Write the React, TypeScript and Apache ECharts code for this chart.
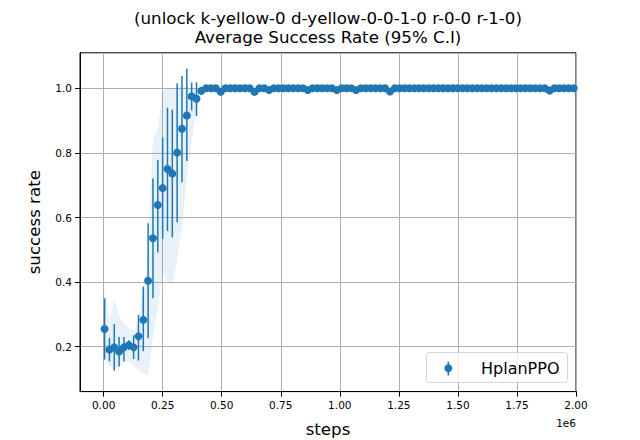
import React, { useEffect, useRef } from "react";
import * as echarts from "echarts";

// evaluation steps (x)
const steps = [
  4096, 24576, 45056, 65536, 86016, 106496, 126976, 147456, 167936, 188416,
  208896, 229376, 249856, 270336, 290816, 311296, 331776, 352256, 372736, 393216,
  413696, 434176, 454656, 475136, 495616, 516096, 536576, 557056, 577536, 598016,
  618496, 638976, 659456, 679936, 700416, 720896, 741376, 761856, 782336, 802816,
  823296, 843776, 864256, 884736, 905216, 925696, 946176, 966656, 987136, 1007616,
  1028096, 1048576, 1069056, 1089536, 1110016, 1130496, 1150976, 1171456, 1191936, 1212416,
  1232896, 1253376, 1273856, 1294336, 1314816, 1335296, 1355776, 1376256, 1396736, 1417216,
  1437696, 1458176, 1478656, 1499136, 1519616, 1540096, 1560576, 1581056, 1601536, 1622016,
  1642496, 1662976, 1683456, 1703936, 1724416, 1744896, 1765376, 1785856, 1806336, 1826816,
  1847296, 1867776, 1888256, 1908736, 1929216, 1949696, 1970176, 1990656,
];

// mean success rate
const successMean = [
  0.255, 0.191, 0.198, 0.185, 0.198, 0.205, 0.198, 0.232, 0.283, 0.404,
  0.536, 0.639, 0.691, 0.75, 0.736, 0.801, 0.875, 0.916, 0.975, 0.968,
  0.992, 1, 1, 1, 0.989, 1, 1, 1, 1, 1,
  1, 0.989, 1, 1, 0.995, 1, 1, 1, 1, 1,
  1, 1, 0.995, 1, 1, 1, 1, 1, 0.995, 1,
  1, 1, 0.995, 1, 1, 1, 1, 1, 1, 0.99,
  1, 1, 1, 1, 1, 1, 1, 1, 1, 1,
  1, 1, 1, 1, 1, 1, 1, 1, 1, 1,
  1, 1, 1, 1, 1, 1, 1, 1, 1, 1,
  1, 1, 0.993, 1, 1, 1, 1, 1,
];

// 95% C.I. error bars (first points; later ones collapse onto the marker)
const ciLow = [
  0.16, 0.155, 0.126, 0.139, 0.155, 0.19, 0.162, 0.157, 0.186, 0.227,
  0.35, 0.492, 0.534, 0.558, 0.539, 0.585, 0.709, 0.775, 0.932, 0.914, 0.98,
];
const ciHigh = [
  0.35, 0.227, 0.27, 0.23, 0.23, 0.22, 0.235, 0.299, 0.386, 0.582,
  0.721, 0.778, 0.848, 0.94, 0.934, 1.016, 1.038, 1.061, 1.018, 1.019, 1.0,
];

// shaded band
const bandLow = [
  0.165, 0.139, 0.129, 0.139, 0.15, 0.155, 0.139, 0.129, 0.118, 0.112,
  0.23, 0.32, 0.43, 0.4, 0.395, 0.47, 0.57, 0.72, 0.84, 0.93, 0.985, 0.995,
];
const bandHigh = [
  0.391, 0.278, 0.35, 0.294, 0.273, 0.258, 0.247, 0.283, 0.376, 0.48,
  0.846, 0.87, 0.99, 1.0, 1.0, 1.005, 1.005, 1.005, 1.0, 1.0, 1.0, 1.0,
];

const xTicks = [0, 250000, 500000, 750000, 1000000, 1250000, 1500000, 1750000, 2000000];
const yTicks = [0.2, 0.4, 0.6, 0.8, 1.0];
const titleLines = ["(unlock k-yellow-0 d-yellow-0-0-1-0 r-0-0 r-1-0)", "Average Success Rate (95% C.I)"];
const seriesName = "HplanPPO";
const xName = "steps";
const yName = "success rate";
const xOffsetText = "1e6";

const BLUE = "#1f77b4";
const FONT = "DejaVu Sans";

export default function App() {
  const ref = useRef<HTMLDivElement>(null);
  useEffect(() => {
    document.body.style.margin = "0";
    const chart = echarts.init(ref.current!, null, { renderer: "svg" });
    const gridL = 80, gridT = 52.8, gridW = 496, gridH = 338.8;
    const cx = gridL + gridW / 2;
    const option: any = {
      animation: false,
      backgroundColor: "#fff",
      textStyle: { fontFamily: FONT },
      grid: {
        left: gridL, top: gridT, width: gridW, height: gridH,
        show: true, borderColor: "#000", borderWidth: 1, backgroundColor: "transparent",
      },
      xAxis: {
        type: "value", min: -100000, max: 2000000,
        axisLine: { show: true, onZero: false, lineStyle: { color: "#000", width: 1 } },
        axisTick: { show: true, customValues: xTicks, length: 5, lineStyle: { color: "#000", width: 1 } },
        axisLabel: {
          customValues: xTicks, color: "#000", fontSize: 10.5, margin: 8,
          formatter: (v: number) => (v / 1e6).toFixed(2),
        },
        splitLine: { show: true, lineStyle: { color: "#b0b0b0", width: 1 } },
      },
      yAxis: {
        type: "value", min: 0.061, max: 1.11,
        axisLine: { show: true, onZero: false, lineStyle: { color: "#000", width: 1 } },
        axisTick: { show: true, customValues: yTicks, length: 5, lineStyle: { color: "#000", width: 1 } },
        axisLabel: {
          customValues: yTicks, color: "#000", fontSize: 10.5, margin: 8,
          formatter: (v: number) => v.toFixed(1),
        },
        splitLine: { show: true, lineStyle: { color: "#b0b0b0", width: 1 } },
      },
      series: [
        {
          type: "custom", name: "band", z: 1, silent: true,
          data: bandLow.map((lo, i) => [steps[i], lo, bandHigh[i]]),
          encode: { x: 0, y: [1, 2] },
          renderItem: (params: any, api: any) => {
            if (params.dataIndex !== 0) return null;
            const upper = bandHigh.map((v, i) => api.coord([steps[i], v]));
            const lower = bandLow.map((v, i) => api.coord([steps[i], v])).reverse();
            return {
              type: "polygon",
              shape: { points: upper.concat(lower) },
              style: { fill: "rgba(31,119,180,0.1)", stroke: "none" },
            };
          },
        },
        {
          type: "custom", name: "err", z: 2, silent: true,
          data: ciLow.map((lo, i) => [steps[i], lo, ciHigh[i]]),
          encode: { x: 0, y: [1, 2] },
          renderItem: (params: any, api: any) => {
            const p1 = api.coord([api.value(0), api.value(1)]);
            const p2 = api.coord([api.value(0), api.value(2)]);
            return {
              type: "line",
              shape: { x1: p1[0], y1: p1[1], x2: p2[0], y2: p2[1] },
              style: { stroke: BLUE, lineWidth: 1.5 },
            };
          },
        },
        {
          type: "scatter", name: seriesName, z: 3,
          symbol: "circle", symbolSize: 8,
          itemStyle: { color: BLUE, opacity: 1 },
          data: steps.map((s, i) => [s, successMean[i]]),
        },
      ],
      graphic: [
        {
          type: "text", x: cx, y: 18, z: 10,
          style: { text: titleLines[0], fill: "#000", fontSize: 16.67, fontFamily: FONT, textAlign: "center", textVerticalAlign: "middle" },
        },
        {
          type: "text", x: cx, y: 37.5, z: 10,
          style: { text: titleLines[1], fill: "#000", fontSize: 16.67, fontFamily: FONT, textAlign: "center", textVerticalAlign: "middle" },
        },
        {
          type: "text", x: cx, y: 429, z: 10,
          style: { text: xName, fill: "#000", fontSize: 16.67, fontFamily: FONT, textAlign: "center", textVerticalAlign: "middle" },
        },
        {
          type: "text", x: 34, y: gridT + gridH / 2, rotation: Math.PI / 2, z: 10,
          style: { text: yName, fill: "#000", fontSize: 16.67, fontFamily: FONT, textAlign: "center", textVerticalAlign: "middle" },
        },
        {
          type: "text", x: 576, y: 422.5, z: 10,
          style: { text: xOffsetText, fill: "#000", fontSize: 10.5, fontFamily: FONT, textAlign: "right", textVerticalAlign: "middle" },
        },
        {
          type: "group", z: 100,
          children: [
            {
              type: "rect", shape: { x: 426.5, y: 352.5, width: 141, height: 30, r: 3 },
              style: { fill: "rgba(255,255,255,0.8)", stroke: "rgba(204,204,204,0.8)", lineWidth: 1 },
              z: 100,
            },
            {
              type: "line", shape: { x1: 448.3, y1: 361.5, x2: 448.3, y2: 375.5 },
              style: { stroke: BLUE, lineWidth: 1.5 }, z: 101,
            },
            {
              type: "circle", shape: { cx: 448.3, cy: 368.3, r: 4 },
              style: { fill: BLUE }, z: 102,
            },
            {
              type: "text", x: 481, y: 368, z: 102,
              style: { text: seriesName, fill: "#000", fontSize: 16, fontFamily: FONT, textAlign: "left", textVerticalAlign: "middle" },
            },
          ],
        },
      ],
    };
    chart.setOption(option);
    return () => chart.dispose();
  }, []);
  return <div ref={ref} style={{ position: "absolute", left: 0, top: 0, width: 640, height: 440 }} />;
}
